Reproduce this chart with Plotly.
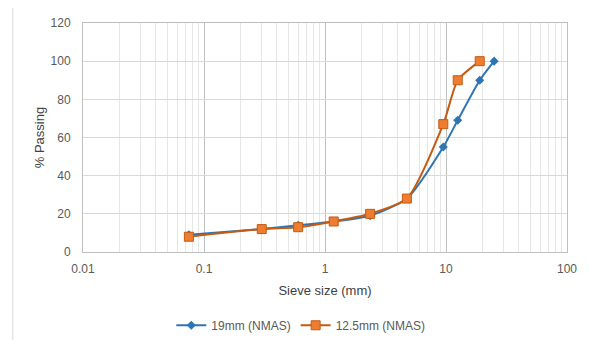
import plotly.graph_objects as go

sieve_19 = [0.075, 0.3, 0.6, 1.18, 2.36, 4.75, 9.5, 12.5, 19, 25]
pass_19 = [9, 12, 14, 16, 19, 28, 55, 69, 90, 100]
sieve_125 = [0.075, 0.3, 0.6, 1.18, 2.36, 4.75, 9.5, 12.5, 19]
pass_125 = [8, 12, 13, 16, 20, 28, 67, 90, 100]
x_ticks = [0.01, 0.1, 1, 10, 100]
x_tick_labels = ["0.01", "0.1", "1", "10", "100"]

minor_vals = [m * 10 ** e for e in range(-2, 2) for m in range(2, 10)]

font = "Liberation Sans Narrow, Liberation Sans, Arial"
txt = "#595959"

fig = go.Figure()
fig.add_trace(go.Scatter(
    x=sieve_19, y=pass_19, name="19mm (NMAS)", mode="lines+markers",
    line=dict(color="#2E75B6", width=2, shape="spline", smoothing=0.6),
    marker=dict(symbol="diamond", size=7, color="#2E75B6")))
fig.add_trace(go.Scatter(
    x=sieve_125, y=pass_125, name="12.5mm (NMAS)", mode="lines+markers",
    line=dict(color="#C55A11", width=2, shape="spline", smoothing=0.6),
    marker=dict(symbol="square", size=9, color="#ED7D31",
                line=dict(color="#C55A11", width=1))))

# page body adds an 8px offset; size and margins compensate for it
fig.update_layout(
    width=582, height=332,
    margin=dict(l=75, r=23, t=15, b=88, autoexpand=False),
    paper_bgcolor="white", plot_bgcolor="white",
    font=dict(family=font, size=12, color=txt),
    showlegend=True,
    legend=dict(orientation="h", x=0.45, xanchor="center", y=-0.32, yanchor="middle",
                font=dict(size=12, color=txt), itemwidth=30),
    xaxis=dict(type="log", range=[-2, 2], tickvals=x_ticks, ticktext=x_tick_labels,
               showgrid=True, gridcolor="#BFBFBF", gridwidth=1,
               minor=dict(tickvals=minor_vals, showgrid=True, gridcolor="#E6E6E6", gridwidth=1),
               showline=True, linecolor="#BFBFBF", mirror=True, ticks="",
               ticklabelstandoff=6, automargin=False,
               title=dict(text="Sieve size (mm)", font=dict(size=13, color="#404040"), standoff=10),
               zeroline=False),
    yaxis=dict(range=[0, 120], dtick=20, showgrid=True, gridcolor="#D9D9D9",
               showline=True, linecolor="#BFBFBF", mirror=True, ticks="",
               ticklabelstandoff=9, automargin=False,
               title=dict(text="% Passing", font=dict(size=13, color="#404040"), standoff=3),
               zeroline=False),
    shapes=[dict(type="rect", xref="paper", yref="paper",
                 x0=-0.145, x1=1.043, y0=-0.45, y1=1.07,
                 line=dict(color="#D9D9D9", width=1))],
)

fig.write_html("out.html")
